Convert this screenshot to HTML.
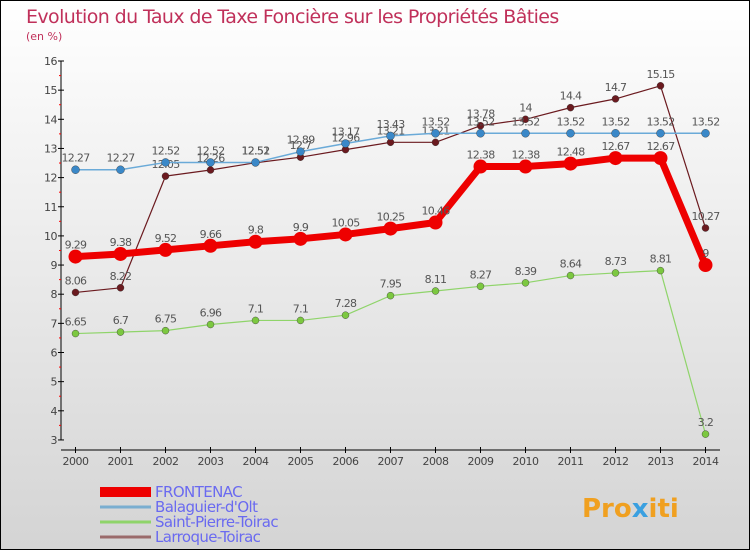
<!DOCTYPE html>
<html><head><meta charset="utf-8"><style>
body{margin:0;width:750px;height:550px;overflow:hidden}
svg text{font-family:"DejaVu Sans","Liberation Sans",sans-serif}
</style></head><body>
<svg id="c" width="750" height="550">
<defs><linearGradient id="bg" x1="0" y1="0" x2="0" y2="1"><stop offset="0" stop-color="#ffffff"/><stop offset="1" stop-color="#d4d4d4"/></linearGradient></defs>
<rect x="0.5" y="0.5" width="749" height="549" fill="url(#bg)" stroke="#000"/>
<text x="26" y="23" font-size="19" fill="#c0305a" letter-spacing="-0.6">Evolution du Taux de Taxe Foncière sur les Propriétés Bâties</text>
<text x="26" y="40" font-size="11" fill="#c0305a">(en %)</text>
<g id="axes"></g><g id="series"></g><g id="legend"></g>
<text x="582" y="517" font-size="26" font-weight="bold" fill="#f0a020">Pro<tspan fill="#3aa0e0">x</tspan>iti</text>
</svg>
<script>
const years=["2000","2001","2002","2003","2004","2005","2006","2007","2008","2009","2010","2011","2012","2013","2014"];
const yTicks=[3,4,5,6,7,8,9,10,11,12,13,14,15,16];
const frontenac=[9.29,9.38,9.52,9.66,9.8,9.9,10.05,10.25,10.46,12.38,12.38,12.48,12.67,12.67,9];
const balaguier=[12.27,12.27,12.52,12.52,12.52,12.89,13.17,13.43,13.52,13.52,13.52,13.52,13.52,13.52,13.52];
const saintPierre=[6.65,6.7,6.75,6.96,7.1,7.1,7.28,7.95,8.11,8.27,8.39,8.64,8.73,8.81,3.2];
const larroque=[8.06,8.22,12.05,12.26,12.51,12.7,12.96,13.21,13.21,13.78,14,14.4,14.7,15.15,10.27];
const NS="http://www.w3.org/2000/svg";
const X=i=>75.5+i*45, Y=v=>61+(16-v)*29.15;
function mk(t,a,p){const e=document.createElementNS(NS,t);for(const k in a)e.setAttribute(k,a[k]);p.appendChild(e);return e;}
const ax=document.getElementById('axes');
let e=mk('line',{x1:61,y1:61,x2:61,y2:440,stroke:'#000'},ax);


e=mk('line',{x1:61,y1:450,x2:720,y2:450,stroke:'#000'},ax);


yTicks.forEach(v=>{mk('line',{x1:58,y1:Y(v),x2:64,y2:Y(v),stroke:'#000'},ax);
 if(v<16)mk('line',{x1:59,y1:Y(v+0.5),x2:61,y2:Y(v+0.5),stroke:'#f00'},ax);
 const t=mk('text',{x:57,y:Y(v)+4,'font-size':11,fill:'#444','text-anchor':'end','letter-spacing':'-0.5'},ax);t.textContent=v;
 
 });
years.forEach((y,i)=>{mk('line',{x1:X(i),y1:447,x2:X(i),y2:453,stroke:'#000'},ax);
 const t=mk('text',{x:X(i),y:465,'font-size':11,fill:'#444','text-anchor':'middle','letter-spacing':'-0.5'},ax);t.textContent=y;
 
 });
const S=document.getElementById('series');
const series=[
 {n:'larroque',d:larroque,c:'#6b1a1f',w:1.2,r:3.5,lab:'Larroque-Toirac',lc:'#9a6a6a',lw:3},
 {n:'saint-pierre',d:saintPierre,c:'#8fd46a',w:1.2,r:3.5,lab:'Saint-Pierre-Toirac',lc:'#8fd46a',lw:3},
 {n:'balaguier',d:balaguier,c:'#6aaad8',w:1.5,r:4,lab:'Balaguier-d\'Olt',lc:'#7aaed0',lw:3},
 {n:'frontenac',d:frontenac,c:'#ee0000',w:7,r:7,lab:'FRONTENAC',lc:'#ee0000',lw:10}];
series.forEach(s=>{const g=mk('g',{},S);
 
 
 const l=mk('polyline',{points:s.d.map((v,i)=>X(i)+','+Y(v)).join(' '),fill:'none',stroke:s.c,'stroke-width':s.w,'stroke-linejoin':'round'},g);
 
 
 const pc=s.n==='balaguier'?'#3a88c8':s.n==='saint-pierre'?'#7cc840':s.c;
 s.d.forEach((v,i)=>{const p=mk('circle',{cx:X(i),cy:Y(v),r:s.r,fill:pc,stroke:s.n==='frontenac'?'none':'#333','stroke-width':0.4},g);
  
  
  const t=mk('text',{x:X(i),y:Y(v)-8,'font-size':11,fill:'#555','text-anchor':'middle','letter-spacing':'-0.7'},g);t.textContent=v;
  
  });});
const L=document.getElementById('legend');
[series[3],series[2],series[1],series[0]].forEach((s,i)=>{const y=492+i*15;
 const g=mk('g',{},L);
 
 
 mk('line',{x1:100,y1:y+i*0,x2:151,y2:y,stroke:s.lc,'stroke-width':s.lw},g);
 const t=mk('text',{x:155,y:y+5,'font-size':15,fill:'#6a6af0','letter-spacing':'-0.6'},g);t.textContent=s.lab;});
</script>
</body></html>
